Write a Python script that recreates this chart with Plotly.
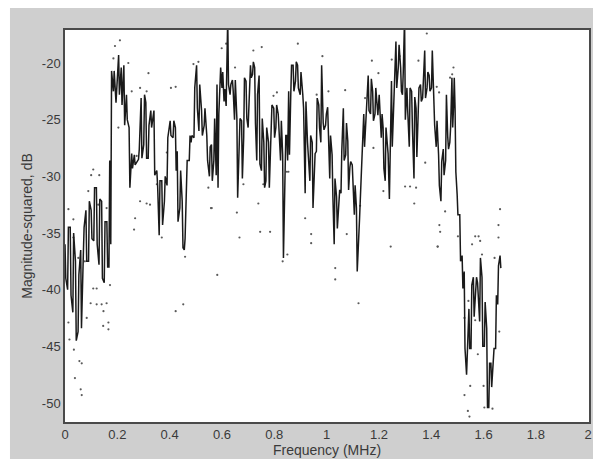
import plotly.graph_objects as go

# Spectrum trace: for each frequency bin, the two extreme levels visited (dB)
bin_freq = [0.000, 0.010, 0.020, 0.030, 0.040, 0.050, 0.060, 0.070, 0.080, 0.090,
            0.100, 0.110, 0.120, 0.130, 0.140, 0.150, 0.160, 0.168, 0.175, 0.185,
            0.195, 0.205, 0.215, 0.225, 0.235, 0.245, 0.255, 0.265, 0.281, 0.291,
            0.301, 0.309, 0.318, 0.328, 0.340, 0.351, 0.360, 0.370, 0.380, 0.390,
            0.402, 0.413, 0.422, 0.429, 0.439, 0.448, 0.456, 0.464, 0.475, 0.482,
            0.493, 0.503, 0.512, 0.522, 0.532, 0.542, 0.552, 0.560, 0.569, 0.578,
            0.585, 0.592, 0.600, 0.608, 0.616, 0.622, 0.631, 0.640, 0.648, 0.657,
            0.666, 0.675, 0.683, 0.692, 0.700, 0.709, 0.717, 0.725, 0.733, 0.742,
            0.751, 0.760, 0.768, 0.778, 0.788, 0.798, 0.806, 0.815, 0.824, 0.832,
            0.841, 0.848, 0.855, 0.863, 0.872, 0.881, 0.889, 0.899, 0.909, 0.918,
            0.927, 0.936, 0.945, 0.953, 0.961, 0.970, 0.978, 0.987, 0.996, 1.004,
            1.012, 1.021, 1.029, 1.038, 1.047, 1.055, 1.064, 1.073, 1.081, 1.089,
            1.098, 1.106, 1.114, 1.123, 1.132, 1.142, 1.150, 1.159, 1.168, 1.176,
            1.185, 1.193, 1.201, 1.209, 1.216, 1.224, 1.232, 1.240, 1.248, 1.257,
            1.265, 1.274, 1.283, 1.290, 1.298, 1.307, 1.316, 1.325, 1.334, 1.342,
            1.350, 1.359, 1.367, 1.375, 1.384, 1.392, 1.401, 1.410, 1.419, 1.428,
            1.437, 1.446, 1.455, 1.463, 1.471, 1.479, 1.485, 1.491, 1.499, 1.509,
            1.518, 1.526, 1.535, 1.544, 1.552, 1.561, 1.570, 1.577, 1.585, 1.594,
            1.603, 1.612, 1.620, 1.628, 1.637, 1.646, 1.654, 1.663]

level_a = [-36, -40, -34.5, -42, -37.5, -43.7, -36.5, -37, -33, -37.5,
           -33, -35.7, -31, -37.8, -32.2, -39.4, -34, -38, -36, -22.5,
           -23.5, -19.3, -20.4, -20.2, -22.8, -25.7, -28, -28.1, -28.5, -23.1,
           -27.2, -23.5, -28.4, -24.2, -24.2, -29.5, -35.2, -30.4, -32.2, -30.8,
           -25.1, -26.6, -25.7, -27.8, -32.8, -32.2, -36.5, -30.4, -28.6, -27,
           -26.6, -20.2, -26, -24.2, -25.5, -26.4, -30, -27.2, -28.6, -29.9,
           -31, -22.2, -22.2, -23.4, -23.8, -16, -22.8, -21.5, -25, -24.9,
           -27.6, -25.1, -26.6, -21.6, -25.7, -20.2, -21, -20.4, -28.6, -21.1,
           -29.5, -27, -30.4, -27, -26.9, -24, -25.7, -24.5, -28.6, -28.1,
           -28.6, -26.4, -22.5, -22.8, -20.2, -21.6, -20.2, -22.8, -22.8, -31.5,
           -27, -30.4, -27, -28.6, -27.8, -23.7, -27, -25.3, -25.5, -23.9,
           -30.2, -28.1, -36, -31.8, -32, -31.5, -24, -28.1, -26.9, -29.2,
           -29, -33.4, -32.8, -34.3, -30.2, -24.5, -25.3, -21.1, -24.5, -22.5,
           -24.5, -23.5, -22.8, -26.6, -25.7, -30.4, -27, -32, -21.6, -23.4,
           -18.1, -20.4, -20.4, -22.8, -16, -22.2, -27.4, -22.5, -30.2, -24,
           -25.1, -21.9, -23.1, -18.9, -22.2, -21.1, -22.2, -22.8, -27.4, -28.1,
           -32.2, -27.6, -28.6, -26.5, -27, -21.3, -24, -24, -31.6, -33.4,
           -37, -38.4, -47.5, -41.7, -45.2, -38.9, -40.5, -39.4, -42.8, -38.9,
           -45, -43.4, -50.4, -46.5, -46.2, -45.2, -41.3, -37]

level_b = [-39, -34.5, -40.5, -35, -44.5, -38.7, -43.4, -34.5, -37.5, -32.2,
           -35.5, -31, -36, -32, -39, -34, -38, -28.6, -20.7, -20.7,
           -22, -22.8, -23.7, -25.5, -25, -31, -29.3, -29, -27.6, -28.4,
           -22.8, -28.4, -25.5, -25.7, -29.9, -30.8, -30.4, -34.3, -30, -26.6,
           -26.4, -25.1, -29.5, -34, -29.5, -36.3, -35.5, -28.6, -26.4, -26.4,
           -22.2, -24, -21.9, -26.4, -24, -28.6, -27.4, -30.4, -24.9, -21.9,
           -24.5, -20.4, -20.8, -22.3, -21, -21.9, -21.9, -22.5, -21.5, -31.9,
           -24.9, -30.2, -21.3, -24.9, -24.2, -21.3, -19.9, -25.3, -22.8, -28.9,
           -24.9, -31, -25.7, -31, -23.7, -26.6, -23.7, -26.4, -25.1, -37.2,
           -26.4, -28.6, -28.1, -20.2, -22.5, -19.9, -22.2, -20.8, -24, -23.4,
           -28, -26.4, -32.8, -28, -23.1, -25.7, -20.2, -25.9, -24.5, -26.9,
           -26.4, -31.8, -30.2, -34.6, -31.2, -27.8, -28.6, -25.3, -31.2, -28.7,
           -30.8, -30.8, -38.4, -33.7, -28.4, -27.4, -23.1, -24.2, -21.4, -25.1,
           -22.2, -24.6, -24.5, -24.5, -29.3, -25.7, -28, -27.4, -27.4, -21.6,
           -22.2, -18.4, -22.5, -20.8, -25, -24.2, -22.2, -25.7, -23, -28.3,
           -22.2, -23.4, -21.9, -23.1, -20.8, -22.5, -18.9, -25.5, -25.1, -30.8,
           -28.7, -29.9, -22.8, -27.6, -25.7, -25.7, -21.3, -29.6, -33.4, -37.5,
           -39.9, -45.2, -45.2, -45.2, -39.6, -42.4, -38.9, -41.1, -37.2, -45,
           -41.1, -50.4, -46.5, -48.6, -45.2, -40.5, -37.9, -38.1]

# Scattered individual estimates (MHz, dB)
dot_freq = [0.191, 0.210, 0.185, 0.242, 0.255, 0.287, 0.204, 0.274, 0.268, 0.264,
            0.108, 0.131, 0.100, 0.089, 0.127, 0.159, 0.013, 0.032, 0.051, 0.076,
            0.108, 0.121, 0.098, 0.121, 0.140, 0.159, 0.147, 0.166, 0.146, 0.166,
            0.083, 0.013, 0.017, 0.034, 0.055, 0.064, 0.038, 0.060, 0.064, 0.172,
            0.032, 0.319, 0.405, 0.423, 0.510, 0.491, 0.312, 0.287, 0.312, 0.325,
            0.370, 0.459, 0.423, 0.452, 0.548, 0.558, 0.389, 0.351, 0.599, 0.616,
            0.650, 0.720, 0.752, 0.561, 0.582, 0.657, 0.667, 0.739, 0.746, 0.784,
            0.810, 0.797, 0.832, 0.854, 0.682, 0.758, 0.890, 0.984, 1.071, 0.962,
            1.007, 0.918, 0.941, 0.941, 1.033, 1.033, 1.122, 1.147, 1.077, 0.848,
            0.850, 1.173, 1.198, 1.249, 1.279, 1.383, 1.351, 1.300, 1.319, 1.342,
            1.335, 1.245, 1.424, 1.431, 1.179, 1.217, 1.377, 1.128, 1.485, 1.480,
            1.472, 1.421, 1.430, 1.434, 1.425, 1.453, 1.663, 1.657, 1.657, 1.568,
            1.581, 1.556, 1.587, 1.594, 1.642, 1.542, 1.527, 1.568, 1.578, 1.549,
            1.527, 1.540, 1.546, 1.600, 1.603, 1.634, 1.660, 1.502]

dot_db = [-18.5, -18.0, -19.6, -20.0, -22.5, -22.2, -25.7, -28.2, -33.7, -34.7,
          -29.4, -29.9, -29.9, -31.3, -32.5, -32.8, -32.9, -33.8, -37.2, -37.5,
          -39.9, -39.9, -41.2, -41.3, -41.3, -41.2, -41.9, -42.9, -43.2, -43.5,
          -42.5, -42.9, -44.4, -45.3, -46.3, -46.5, -47.8, -48.8, -49.3, -39.6,
          -35.4, -20.9, -22.2, -22.1, -19.9, -20.1, -22.5, -32.2, -32.4, -32.5,
          -35.4, -37.1, -41.9, -41.3, -31.0, -32.8, -27.9, -30.7, -18.7, -18.3,
          -20.4, -18.9, -18.6, -32.8, -38.7, -33.2, -35.4, -32.4, -34.9, -34.9,
          -22.6, -22.9, -37.5, -29.6, -30.7, -30.7, -18.3, -19.4, -22.4, -22.8,
          -22.5, -33.7, -35.1, -35.9, -38.1, -39.1, -41.2, -23.1, -35.1, -29.6,
          -36.9, -19.8, -20.9, -19.7, -19.4, -17.4, -19.8, -30.9, -30.9, -31.0,
          -32.4, -36.2, -36.2, -34.3, -27.5, -31.3, -28.8, -32.6, -20.4, -21.0,
          -21.3, -22.1, -22.6, -34.9, -36.2, -33.1, -32.9, -34.3, -35.4, -35.3,
          -35.3, -36.0, -35.7, -36.9, -37.2, -41.0, -42.5, -42.7, -45.7, -48.5,
          -49.3, -50.7, -51.2, -48.5, -50.4, -50.5, -43.7, -35.3]

x_ticks = [0, 0.2, 0.4, 0.6, 0.8, 1, 1.2, 1.4, 1.6, 1.8, 2]
x_tick_text = ["0", "0.2", "0.4", "0.6", "0.8", "1", "1.2", "1.4", "1.6", "1.8", "2"]
y_ticks = [-50, -45, -40, -35, -30, -25, -20]
y_tick_text = ["-50", "-45", "-40", "-35", "-30", "-25", "-20"]

half_bin = 0.003
line_x, line_y = [], []
for f, a, b in zip(bin_freq, level_a, level_b):
    line_x += [f, f + half_bin]
    line_y += [a, b]

fig = go.Figure()
fig.add_trace(go.Scatter(x=dot_freq, y=dot_db, mode="markers",
                         marker=dict(size=2.2, color="#5a5a5a"),
                         hoverinfo="skip", showlegend=False))
fig.add_trace(go.Scatter(x=line_x, y=line_y, mode="lines",
                         line=dict(color="#1a1a1a", width=1.5),
                         showlegend=False))

axis_font = dict(family="Liberation Sans, Arial, sans-serif", size=13, color="#3a3a3a")
title_font = dict(family="Liberation Sans, Arial, sans-serif", size=14, color="#3a3a3a")

fig.update_layout(
    width=593, height=459,
    margin=dict(l=65, r=4, t=30, b=37, autoexpand=False),
    paper_bgcolor="#cfcfcf",
    plot_bgcolor="#ffffff",
    showlegend=False,
    xaxis=dict(range=[0, 2.003], tickmode="array", tickvals=x_ticks, ticktext=x_tick_text,
               showgrid=False, zeroline=False, showline=True, mirror=True,
               linecolor="#4a4a4a", linewidth=1.5, ticks="", tickfont=axis_font,
               title=dict(text="Frequency (MHz)", font=title_font, standoff=3),
               automargin=False),
    yaxis=dict(range=[-51.68, -17.09], tickmode="array", tickvals=y_ticks, ticktext=y_tick_text,
               showgrid=False, zeroline=False, showline=True, mirror=True,
               linecolor="#4a4a4a", linewidth=1.5, ticks="", tickfont=axis_font,
               title=dict(text="Magnitude-squared, dB", font=title_font, standoff=6),
               automargin=False),
    shapes=[
        dict(type="rect", xref="paper", yref="paper", x0=-0.2, x1=1.1, y0=1.056, y1=1.2,
             fillcolor="#ffffff", line=dict(width=0), layer="below"),
        dict(type="rect", xref="paper", yref="paper", x0=-0.2, x1=-0.105, y0=-0.2, y1=1.2,
             fillcolor="#ffffff", line=dict(width=0), layer="below"),
    ],
)

fig.write_html("out.html")
